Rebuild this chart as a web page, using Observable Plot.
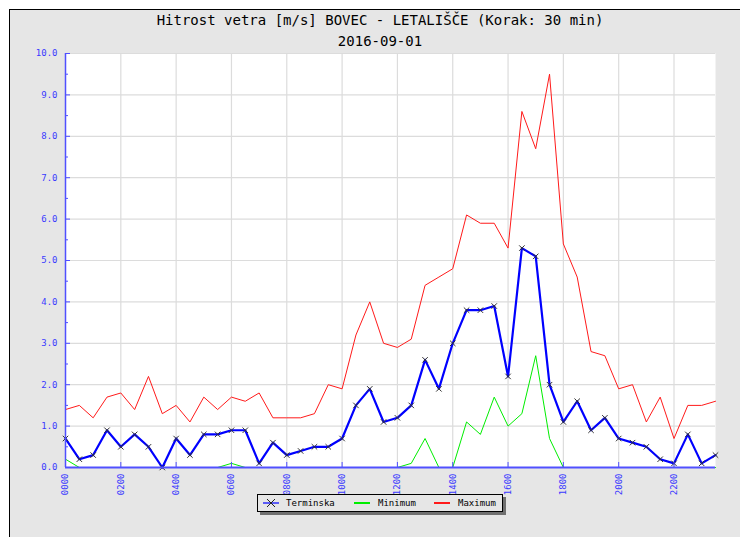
<!DOCTYPE html>
<html>
<head>
<meta charset="utf-8">
<script src="https://cdn.jsdelivr.net/npm/d3@7"></script>
<script src="https://cdn.jsdelivr.net/npm/@observablehq/plot@0.6"></script>
<style>
  body { margin: 0; background: #fff; }
  #page { position: relative; width: 740px; height: 537px; overflow: hidden; font-family: "DejaVu Sans Mono", monospace; }
  #bg { position: absolute; left: 9px; top: 9px; right: 0; bottom: 0; background: #e6e6e6; border-left: 1px solid #000; border-top: 1px solid #000; }
  .ttl { position: absolute; left: 0; width: 760px; text-align: center; font-size: 14px; line-height: 16px; color: #000; }
  #chart { position: absolute; left: 0; top: 45px; }
  #legend { position: absolute; left: 257px; top: 494px; width: 244px; height: 16px; border: 1px solid #000; background: #e6e6e6; box-shadow: 3px 3px 0 #707070; font-size: 9px; color: #000; }
  #legend .sw { position: absolute; top: 0; }
  #legend .tx { position: absolute; top: 3px; line-height: 10px; }
</style>
</head>
<body>
<div id="page">
  <div id="bg"></div>
  <div class="ttl" style="top:12px">Hitrost vetra [m/s] BOVEC - LETALIŠČE (Korak: 30 min)</div>
  <div class="ttl" style="top:33px">2016-09-01</div>
  <div id="chart"></div>
  <div id="legend"></div>
</div>
<script>
// ---- data ----
const times = ["0000","0030","0100","0130","0200","0230","0300","0330","0400","0430",
               "0500","0530","0600","0630","0700","0730","0800","0830","0900","0930",
               "1000","1030","1100","1130","1200","1230","1300","1330","1400","1430",
               "1500","1530","1600","1630","1700","1730","1800","1830","1900","1930",
               "2000","2030","2100","2130","2200","2230","2300","2330"];
const terminska = [0.7,0.2,0.3,0.9,0.5,0.8,0.5,0.0,0.7,0.3,
                   0.8,0.8,0.9,0.9,0.1,0.6,0.3,0.4,0.5,0.5,
                   0.7,1.5,1.9,1.1,1.2,1.5,2.6,1.9,3.0,3.8,
                   3.8,3.9,2.2,5.3,5.1,2.0,1.1,1.6,0.9,1.2,
                   0.7,0.6,0.5,0.2,0.1,0.8,0.1,0.3];
const minimum = [0.2,0.0,0.0,0.0,0.0,0.0,0.0,0.0,0.0,0.0,
                 0.0,0.0,0.1,0.0,0.0,0.0,0.0,0.0,0.0,0.0,
                 0.0,0.0,0.0,0.0,0.0,0.1,0.7,0.0,0.0,1.1,
                 0.8,1.7,1.0,1.3,2.7,0.7,0.0,0.0,0.0,0.0,
                 0.0,0.0,0.0,0.0,0.0,0.0,0.0,0.0];
const maximum = [1.4,1.5,1.2,1.7,1.8,1.4,2.2,1.3,1.5,1.1,
                 1.7,1.4,1.7,1.6,1.8,1.2,1.2,1.2,1.3,2.0,
                 1.9,3.2,4.0,3.0,2.9,3.1,4.4,4.6,4.8,6.1,
                 5.9,5.9,5.3,8.6,7.7,9.5,5.4,4.6,2.8,2.7,
                 1.9,2.0,1.1,1.7,0.7,1.5,1.5,1.6];
const xTickLabels = ["0000","0200","0400","0600","0800","1000","1200","1400","1600","1800","2000","2200"];
const yTicks = [0,1,2,3,4,5,6,7,8,9,10];
const yMinorTicks = [0.5,1.5,2.5,3.5,4.5,5.5,6.5,7.5,8.5,9.5];
const seriesNames = ["Terminska","Minimum","Maximum"];
const seriesColors = ["#0000ff","#00ee00","#ff1a1a"];

// ---- build ----
const toHours = s => +s.slice(0,2) + (+s.slice(2))/60;
const rows = times.map((s,i) => ({t: toHours(s), term: terminska[i], min: minimum[i], max: maximum[i]}));
const xTicks = xTickLabels.map(toHours);
const xGrid = xTicks.filter(h => h > 0);
const yGrid = yTicks.filter(v => v > 0);
const axisBlue = "#5050ff";
const labelBlue = "#3a3aff";

const chart = Plot.plot({
  width: 740,
  height: 450,
  marginLeft: 65,
  marginRight: 25,
  marginTop: 8,
  marginBottom: 28,
  x: {domain: [0, 23.5]},
  y: {domain: [0, 10]},
  style: {background: "transparent", fontFamily: "DejaVu Sans Mono", fontSize: "9px", overflow: "visible"},
  marks: [
    Plot.frame({fill: "white", stroke: "none"}),
    Plot.gridY(yGrid, {stroke: "#dcdcdc", strokeOpacity: 1, strokeWidth: 1.2}),
    Plot.gridX(xGrid, {stroke: "#dcdcdc", strokeOpacity: 1, strokeWidth: 1.2}),
    Plot.line(rows, {x: "t", y: "max", stroke: seriesColors[2], strokeWidth: 1}),
    Plot.line(rows, {x: "t", y: "min", stroke: seriesColors[1], strokeWidth: 1}),
    Plot.line(rows, {x: "t", y: "term", stroke: seriesColors[0], strokeWidth: 2.2}),
    Plot.dot(rows, {x: "t", y: "term", symbol: "times", r: 2.6, stroke: "#333", strokeWidth: 1}),
    Plot.ruleX([0], {stroke: axisBlue, strokeWidth: 1.5}),
    Plot.ruleY([0], {stroke: axisBlue, strokeWidth: 2}),
    Plot.ruleY(yTicks, {stroke: axisBlue, insetRight: 645}),
    Plot.ruleY(yMinorTicks, {stroke: axisBlue, insetRight: 647}),
    Plot.ruleX(xTicks, {stroke: axisBlue, insetTop: 409}),
    Plot.axisY(yTicks, {tickSize: 0, tickPadding: 8, tickFormat: d => d.toFixed(1), label: null, color: labelBlue}),
    Plot.axisX(xTicks, {tickSize: 0, tickPadding: 6, tickRotate: -90, tickFormat: (d, i) => xTickLabels[i], label: null, color: labelBlue})
  ]
});
document.getElementById("chart").appendChild(chart);

// ---- legend ----
const legend = document.getElementById("legend");
const swX = [5, 96, 176];
const txX = [28, 120, 200];
seriesNames.forEach((name, i) => {
  const sw = document.createElement("div");
  sw.className = "sw";
  sw.style.left = swX[i] + "px";
  let inner = `<line x1="0" y1="8" x2="16" y2="8" stroke="${seriesColors[i]}" stroke-width="${i === 0 ? 1.2 : 2}"/>`;
  if (i === 0) inner += `<path d="M4,4L12,12M12,4L4,12" stroke="#222" stroke-width="1"/>`;
  sw.innerHTML = `<svg width="17" height="16">${inner}</svg>`;
  legend.appendChild(sw);
  const tx = document.createElement("div");
  tx.className = "tx";
  tx.style.left = txX[i] + "px";
  tx.textContent = name;
  legend.appendChild(tx);
});
</script>
</body>
</html>
